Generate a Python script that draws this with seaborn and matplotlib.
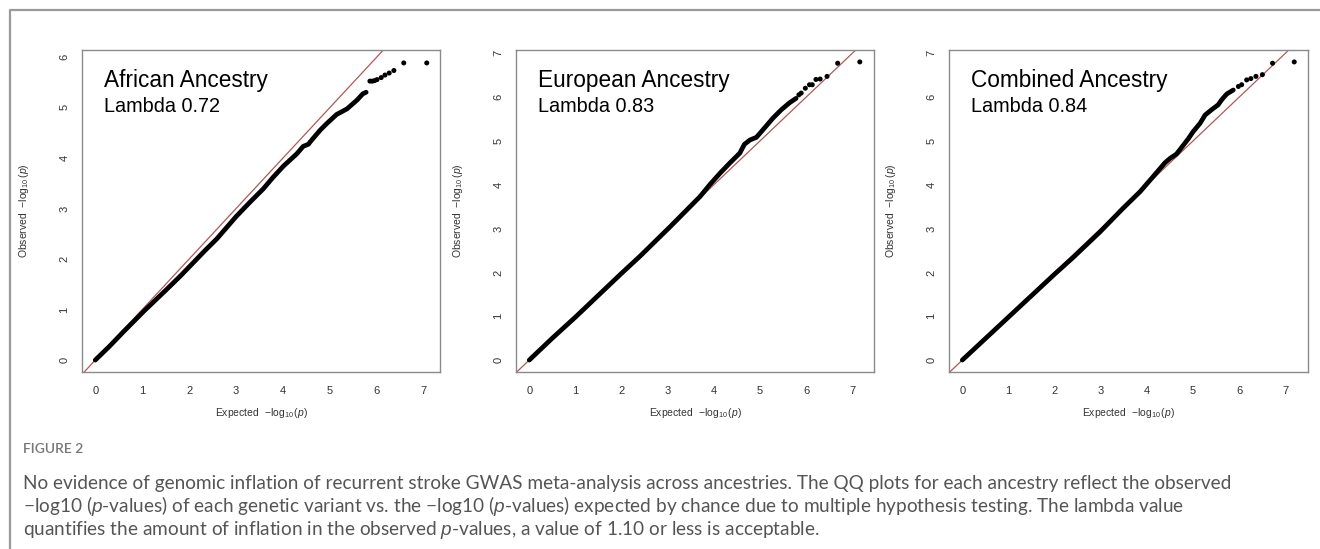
import numpy as np
import pandas as pd
import matplotlib
matplotlib.use("Agg")
import matplotlib.pyplot as plt
from matplotlib.lines import Line2D
import seaborn as sns

# ---------------- data ----------------
panel_titles = ["African Ancestry", "European Ancestry", "Combined Ancestry"]
panel_lambdas = ["Lambda 0.72", "Lambda 0.83", "Lambda 0.84"]
panel_ymax_ticks = [6, 7, 7]
x_ticks = [0, 1, 2, 3, 4, 5, 6, 7]

# dense body of each QQ curve (expected, observed)
afr_body_x = [0.0, 0.3, 0.6, 1.06, 1.5, 1.82, 2.34, 2.59, 3.0, 3.30, 3.58, 3.79, 4.01, 4.29, 4.43,
              4.54, 4.57, 4.79, 4.93, 5.14, 5.36, 5.57, 5.70, 5.77]
afr_body_y = [0.0, 0.27, 0.56, 0.99, 1.38, 1.67, 2.17, 2.40, 2.84, 3.13, 3.39, 3.62, 3.84, 4.08, 4.23,
              4.27, 4.31, 4.55, 4.68, 4.86, 4.97, 5.14, 5.27, 5.30]
afr_tail_x = [5.85, 5.90, 5.95, 6.00, 6.09, 6.17, 6.26, 6.36, 6.57, 7.06]
afr_tail_y = [5.52, 5.52, 5.53, 5.55, 5.59, 5.64, 5.68, 5.73, 5.88, 5.88]

eur_body_x = [0.0, 0.5, 1.0, 1.5, 2.0, 2.40, 3.05, 3.70, 3.91, 4.13, 4.34, 4.56, 4.66, 4.78, 4.92,
              5.06, 5.28, 5.46, 5.64, 5.78]
eur_body_y = [0.0, 0.50, 0.98, 1.48, 1.98, 2.37, 3.04, 3.73, 4.00, 4.26, 4.49, 4.72, 4.92, 5.02, 5.08,
              5.25, 5.52, 5.71, 5.87, 5.97]
eur_tail_x = [5.84, 5.89, 5.98, 6.07, 6.13, 6.21, 6.30, 6.45, 6.68, 7.16]
eur_tail_y = [6.05, 6.09, 6.20, 6.28, 6.28, 6.40, 6.41, 6.47, 6.77, 6.80]

com_body_x = [0.0, 0.5, 1.0, 1.5, 2.0, 2.40, 2.98, 3.48, 3.85, 4.13, 4.39, 4.50, 4.64, 4.75, 4.89,
              5.00, 5.15, 5.26, 5.40, 5.54, 5.62, 5.73, 5.87]
com_body_y = [0.0, 0.49, 0.98, 1.47, 1.96, 2.34, 2.92, 3.46, 3.84, 4.18, 4.50, 4.60, 4.70, 4.85, 5.04,
              5.21, 5.40, 5.59, 5.71, 5.82, 5.94, 6.07, 6.16]
com_tail_x = [5.98, 6.05, 6.16, 6.25, 6.36, 6.50, 6.72, 7.19]
com_tail_y = [6.24, 6.28, 6.39, 6.42, 6.47, 6.51, 6.77, 6.80]

bodies = [(afr_body_x, afr_body_y), (eur_body_x, eur_body_y), (com_body_x, com_body_y)]
tails = [(afr_tail_x, afr_tail_y), (eur_tail_x, eur_tail_y), (com_tail_x, com_tail_y)]

caption_head = "FIGURE 2"
caption_lines = [
    "No evidence of genomic inflation of recurrent stroke GWAS meta-analysis across ancestries. The QQ plots for each ancestry reflect the observed",
    "\u2212log10 ($p$-values) of each genetic variant vs. the \u2212log10 ($p$-values) expected by chance due to multiple hypothesis testing. The lambda value",
    "quantifies the amount of inflation in the observed $p$-values, a value of 1.10 or less is acceptable.",
]

# ---------------- style ----------------
sns.set_style("white")
plt.rcParams["font.family"] = ["Liberation Sans", "DejaVu Sans"]
plt.rcParams["mathtext.fontset"] = "custom"
plt.rcParams["mathtext.rm"] = "Liberation Sans"
plt.rcParams["mathtext.it"] = "Liberation Sans:italic"
plt.rcParams["mathtext.sf"] = "Liberation Sans"

W, H = 1320, 549
fig = plt.figure(figsize=(W / 100, H / 100), dpi=100)
fig.patch.set_facecolor("white")

ax_lr = [(82, 440), (516, 874), (949, 1308)]
ax_top, ax_bot = 50, 372
xmaxs = [7.06, 7.18, 7.20]
ymaxs = [5.90, 6.80, 6.80]

frame_col = "#8a8a8a"
for i in range(3):
    l, r = ax_lr[i]
    ax = fig.add_axes([l / W, 1 - ax_bot / H, (r - l) / W, (ax_bot - ax_top) / H])
    bx, by = bodies[i]
    tx, ty = tails[i]
    df_body = pd.DataFrame({"expected": bx, "observed": by})
    df_tail = pd.DataFrame({"expected": tx, "observed": ty})
    ax.axline((0, 0), slope=1, color="#b0585c", lw=0.9, zorder=1)
    sns.lineplot(data=df_body, x="expected", y="observed", ax=ax, color="black",
                 lw=3.4, sort=False, estimator=None, zorder=2, solid_capstyle="round")
    sns.scatterplot(data=df_tail, x="expected", y="observed", ax=ax, color="black",
                    s=13, edgecolor="none", zorder=3)
    ext_x = 0.04 * xmaxs[i]
    ext_y = 0.04 * ymaxs[i]
    ax.set_xlim(-ext_x, xmaxs[i] + ext_x)
    ax.set_ylim(-ext_y, ymaxs[i] + ext_y)
    ax.set_xticks(x_ticks)
    ax.set_yticks(list(range(0, panel_ymax_ticks[i] + 1)))
    for sp in ax.spines.values():
        sp.set_color(frame_col)
        sp.set_linewidth(1.0)
    ax.tick_params(axis="both", direction="out", length=5, width=0.8, color=frame_col,
                   labelsize=8, labelcolor="#333333")
    ax.tick_params(axis="x", pad=5)
    ax.tick_params(axis="y", pad=4)
    plt.setp(ax.get_yticklabels(), rotation=90, va="center", ha="right")
    ax.set_xlabel(r"Expected  $-\log_{10}(p)$", fontsize=7.5, color="#333333")
    ax.set_ylabel(r"Observed  $-\log_{10}(p)$", fontsize=7.5, color="#333333")
    ax.xaxis.set_label_coords(0.5, -0.105)
    ax.yaxis.set_label_coords(-0.142, 0.5)
    ax.text(0.061, 0.904, panel_titles[i], transform=ax.transAxes, fontsize=16.3,
            va="center", ha="left", color="black")
    ax.text(0.061, 0.823, panel_lambdas[i], transform=ax.transAxes, fontsize=14.3,
            va="center", ha="left", color="black")

# outer frame (left and top edges)
fig.add_artist(Line2D([10 / W, 10 / W, 1.0], [0.0, 1 - 10 / H, 1 - 10 / H],
                      transform=fig.transFigure, color="#9a9a9a", lw=1.6))

# caption
cap_font = ["Lato", "DejaVu Sans"]
fig.text(23 / W, 1 - 449 / H, caption_head, fontsize=10, color="#777777", weight="semibold",
         family=cap_font, va="center", ha="left")
for k, line in enumerate(caption_lines):
    fig.text(23 / W, 1 - (483 + 23.5 * k) / H, line, fontsize=13.7, color="#555555",
             family=cap_font, va="center", ha="left")

fig.savefig("out.png", dpi=100, facecolor="white")
